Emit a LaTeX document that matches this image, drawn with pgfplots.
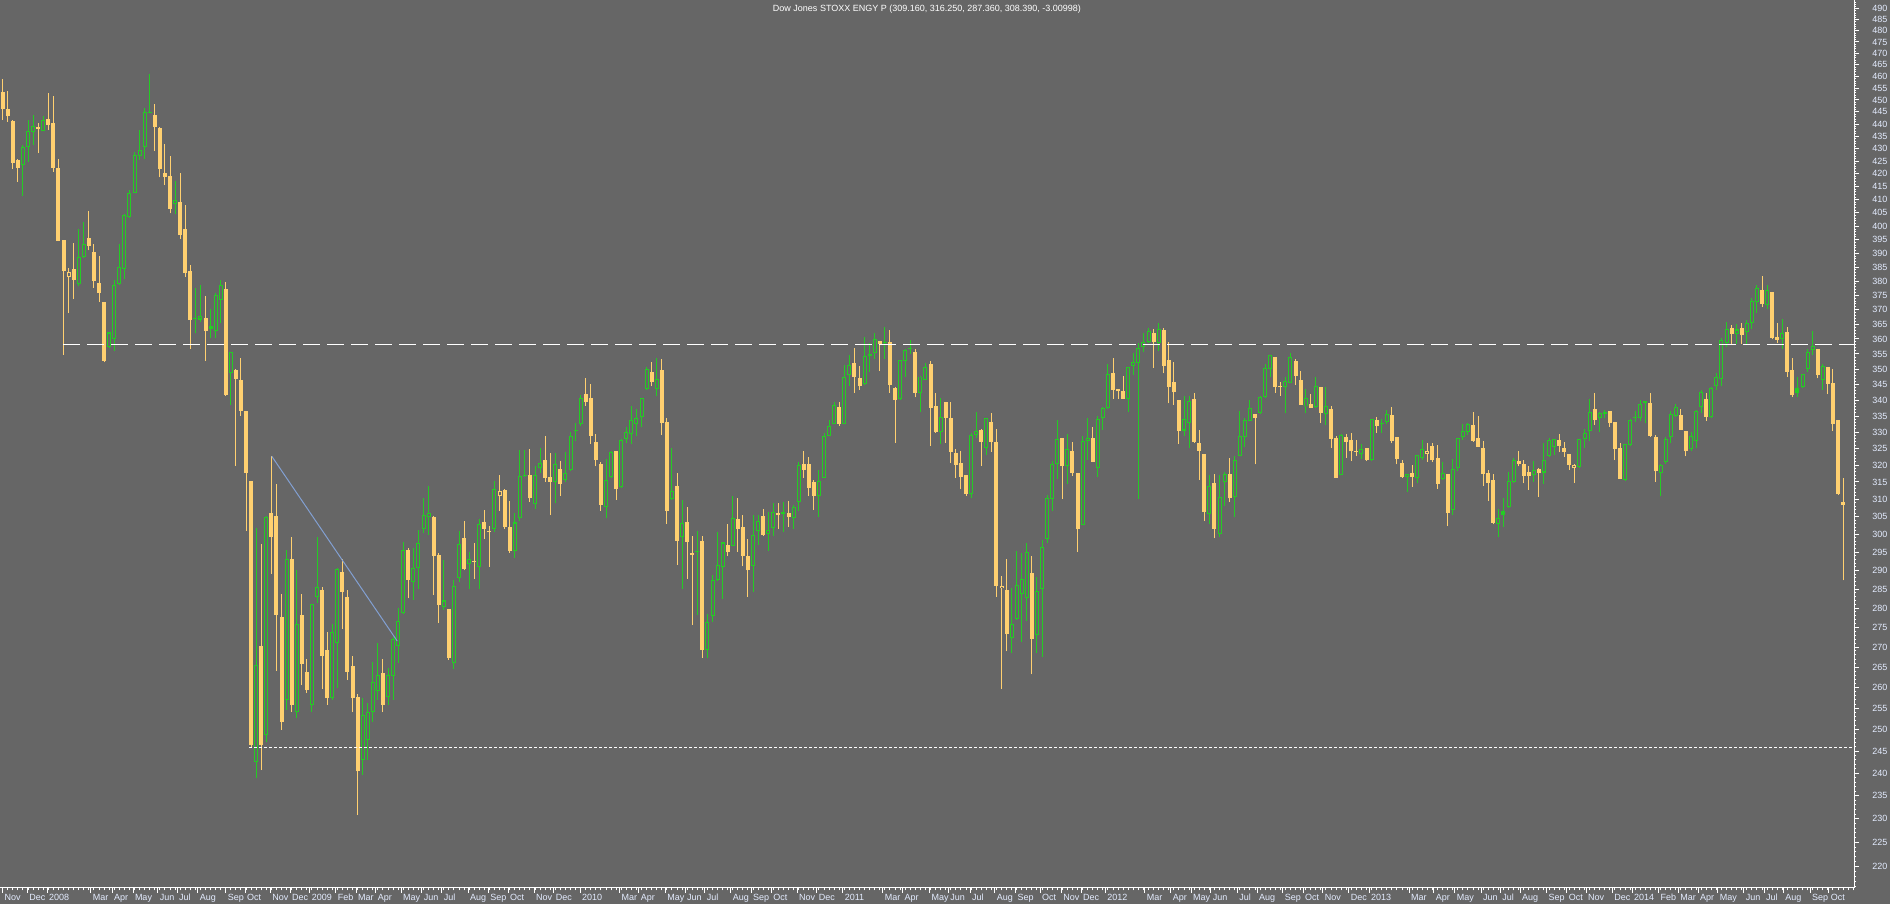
\documentclass[border=0pt]{standalone}
\usepackage{fontspec}
\setmainfont{Liberation Sans}
\usepackage{pgfplots}
\pgfplotsset{compat=1.18}
\usepackage{pgfplotstable}

\definecolor{bg}{RGB}{102,102,102}
\definecolor{up}{RGB}{36,204,36}
\definecolor{dn}{RGB}{255,208,112}
\definecolor{trend}{RGB}{130,160,210}
\definecolor{lbl}{RGB}{228,236,255}

% weekly candles: index, open, high, low, close, green?, filled?
\pgfplotstableread{
i o h l c g f
0 453.4 458.9 441.7 446.3 0 1
1 446.2 453.8 441.0 443.1 0 1
2 441.3 441.5 421.8 424.4 0 1
3 425.5 425.8 416.9 422.4 0 1
4 423.4 431.5 411.5 430.6 1 0
5 430.6 441.7 424.8 437.2 1 0
6 436.7 443.8 431.5 439.2 1 0
7 438.7 440.3 428.2 438.1 0 1
8 437.3 443.4 437.0 441.8 1 0
9 442.1 453.0 437.6 439.6 0 1
10 440.5 451.7 420.8 422.4 0 1
11 422.3 425.9 394.4 394.6 0 1
12 394.9 395.0 354.7 383.7 0 1
13 381.6 384.6 368.8 383.3 0 0
14 384.4 393.9 373.6 380.5 0 1
15 378.9 399.0 378.1 388.7 1 0
16 388.8 401.4 388.5 393.4 1 0
17 395.6 405.7 391.0 392.7 0 1
18 390.5 393.5 377.7 380.1 0 1
19 379.3 389.0 372.8 375.9 0 1
20 372.6 372.8 352.2 352.8 0 1
21 357.2 362.4 357.0 362.2 1 0
22 359.9 380.2 356.1 378.6 1 0
23 378.8 393.4 378.6 385.0 1 0
24 384.3 404.6 380.9 404.2 1 0
25 403.3 413.7 402.9 412.7 1 0
26 412.7 428.8 412.5 427.6 1 0
27 427.0 437.6 425.6 429.5 1 0
28 430.6 446.5 425.8 444.8 1 0
29 444.5 461.1 444.4 444.8 1 1
30 443.8 448.3 429.0 438.9 0 1
31 438.4 438.6 418.6 421.9 0 1
32 420.3 431.9 415.6 418.8 0 1
33 419.2 427.1 404.8 406.6 0 1
34 408.2 417.2 404.7 409.8 1 0
35 409.1 420.3 395.1 396.6 0 1
36 399.0 408.0 381.6 382.8 0 1
37 383.6 385.8 356.7 366.5 0 1
38 367.1 377.6 361.9 367.3 1 1
39 366.6 378.6 365.6 367.8 1 0
40 367.3 374.7 352.8 362.8 0 1
41 364.4 370.4 360.5 363.4 1 1
42 362.8 375.7 360.5 375.0 1 0
43 373.3 380.4 365.3 378.7 1 0
44 377.2 379.7 341.4 341.8 0 1
45 348.6 355.6 338.5 355.5 1 0
46 349.7 350.1 319.8 346.8 0 1
47 346.5 353.8 335.1 336.6 0 1
48 336.6 336.7 300.9 317.8 0 1
49 315.3 315.4 245.8 246.4 0 1
50 242.5 301.7 238.9 265.5 1 0
51 270.3 297.3 240.7 246.4 0 1
52 248.7 305.2 247.1 304.8 1 0
53 306.0 322.7 289.1 299.3 0 1
54 305.2 314.3 264.1 278.2 0 1
55 277.6 283.7 249.9 251.7 0 1
56 257.0 295.5 254.6 293.1 1 0
57 293.2 299.2 254.1 255.8 0 1
58 254.1 290.2 252.7 275.8 1 0
59 278.2 283.7 260.6 265.8 0 1
60 263.7 267.0 258.6 259.4 0 1
61 255.8 281.1 254.1 281.0 1 0
62 283.0 299.1 281.4 285.5 1 0
63 284.8 285.5 259.6 267.8 0 1
64 269.3 273.7 255.8 257.4 0 1
65 257.4 275.8 257.0 273.7 1 0
66 271.0 290.7 259.8 290.5 1 0
67 289.6 293.1 274.6 284.3 0 1
68 282.9 284.8 261.8 263.9 0 1
69 265.3 267.8 254.1 257.4 0 1
70 257.6 258.5 230.8 240.4 0 1
71 243.0 257.4 239.6 253.4 1 0
72 247.6 256.3 243.0 254.1 1 0
73 254.1 266.2 251.7 261.4 1 0
74 259.2 271.0 257.0 263.0 1 0
75 263.6 267.1 254.1 255.8 0 1
76 257.8 264.7 255.8 263.0 1 0
77 262.7 272.6 257.0 272.0 1 0
78 270.3 280.0 266.1 276.6 1 0
79 278.6 297.8 278.4 295.5 1 0
80 295.5 296.1 282.6 287.5 0 1
81 286.9 296.1 282.1 290.8 1 0
82 290.8 301.2 285.1 297.5 1 0
83 301.4 310.3 300.4 305.4 1 0
84 304.8 313.9 299.8 306.1 1 0
85 305.0 305.2 283.4 294.0 0 1
86 294.2 294.7 276.2 280.8 0 1
87 280.4 292.9 279.5 282.0 1 0
88 279.7 279.8 266.8 267.2 0 1
89 266.1 287.5 264.6 285.8 1 0
90 287.9 300.9 287.0 297.2 1 0
91 299.0 303.7 290.0 290.5 0 1
92 291.7 295.2 285.1 293.1 1 0
93 292.7 297.6 287.8 292.4 0 1
94 291.0 304.2 285.1 302.9 1 0
95 303.3 306.9 298.7 301.5 0 1
96 301.0 302.3 291.0 300.7 0 1
97 301.5 315.3 300.7 313.0 1 0
98 310.9 317.1 306.7 312.3 0 0
99 312.7 312.8 301.5 302.0 0 1
100 302.0 309.5 294.9 295.4 0 1
101 295.3 305.9 293.5 303.3 1 0
102 304.5 324.6 303.7 316.7 1 0
103 316.9 324.5 316.6 317.2 1 1
104 317.1 325.0 309.3 310.2 0 1
105 308.5 319.8 307.1 317.1 1 0
106 319.1 325.2 317.6 320.5 1 0
107 321.5 328.8 315.1 316.3 0 1
108 316.5 323.5 305.4 315.1 0 1
109 315.1 323.5 309.0 320.2 1 0
110 318.9 321.2 310.9 314.5 0 1
111 315.5 323.9 315.1 317.6 1 0
112 318.5 329.9 318.3 328.7 1 0
113 330.5 332.8 327.3 330.8 1 1
114 332.4 341.7 331.9 340.6 1 0
115 342.0 347.1 338.2 339.6 0 1
116 340.7 345.2 326.4 328.9 0 1
117 327.0 329.5 319.6 321.6 0 1
118 320.4 321.0 306.7 308.4 0 1
119 307.7 321.8 304.5 315.5 1 0
120 316.5 324.3 316.2 324.0 1 0
121 324.3 324.4 309.8 312.8 0 1
122 313.4 327.8 313.2 327.5 1 0
123 327.8 331.6 326.6 330.0 1 0
124 329.4 338.2 326.5 333.7 1 0
125 332.5 337.1 328.9 334.4 1 0
126 334.6 340.8 331.7 340.7 1 0
127 343.5 350.6 343.1 349.9 1 0
128 349.0 352.4 344.4 345.8 0 1
129 343.5 353.6 341.5 346.8 1 0
130 349.7 353.3 329.1 332.9 0 1
131 333.2 334.4 303.0 306.7 0 1
132 310.0 325.1 309.8 312.4 1 0
133 313.9 317.7 291.5 298.2 0 1
134 299.3 309.8 285.1 303.1 1 0
135 303.4 307.7 287.8 297.9 0 1
136 294.8 299.5 275.6 294.3 0 1
137 295.0 300.9 278.2 295.3 1 1
138 298.1 299.5 267.3 269.3 0 1
139 269.3 278.5 267.3 276.4 1 0
140 278.0 288.8 276.4 287.5 1 0
141 287.4 300.6 287.2 291.5 1 0
142 291.0 297.9 282.4 297.7 1 0
143 297.0 302.9 294.0 295.2 0 1
144 296.7 311.0 296.6 304.6 1 0
145 304.3 310.3 295.1 301.5 0 1
146 302.0 305.4 291.1 293.9 0 1
147 294.0 298.7 283.0 290.0 0 1
148 291.3 305.4 284.3 299.7 1 0
149 300.8 305.5 297.0 303.6 1 0
150 305.2 307.1 299.6 299.9 0 1
151 300.0 306.2 295.4 301.1 1 0
152 301.8 309.0 299.6 306.2 1 0
153 305.9 309.0 301.5 305.4 0 1
154 305.6 309.2 300.7 306.2 1 1
155 306.0 309.4 302.1 304.9 0 1
156 304.5 308.3 301.5 307.7 1 0
157 309.3 321.0 306.7 320.0 1 0
158 320.4 324.2 316.2 318.6 0 1
159 320.4 322.5 310.9 313.2 0 1
160 315.0 315.7 306.9 311.0 0 1
161 310.8 318.6 305.0 315.2 1 0
162 316.3 329.6 316.2 328.8 1 0
163 328.9 333.8 328.8 331.9 1 0
164 332.6 339.3 332.5 338.4 1 0
165 337.8 339.4 331.9 332.6 0 1
166 332.6 351.4 332.5 347.5 1 0
167 348.2 354.7 344.4 351.3 1 0
168 352.0 356.9 342.4 347.5 0 1
169 347.2 351.0 343.3 344.5 0 1
170 345.1 360.6 345.0 354.2 1 0
171 354.4 358.6 349.1 354.9 1 1
172 355.4 362.0 353.4 359.9 1 0
173 359.3 359.4 349.4 358.2 0 1
174 358.5 364.0 353.4 359.0 1 1
175 359.0 363.0 342.4 344.8 0 1
176 344.0 344.1 326.7 340.1 0 1
177 340.3 353.1 340.2 353.0 1 0
178 352.8 356.6 347.5 356.2 1 0
179 356.6 359.7 355.1 356.8 1 1
180 355.7 356.6 340.9 342.3 0 1
181 342.4 347.7 336.4 347.6 1 0
182 346.6 351.9 346.5 350.6 1 0
183 351.8 352.8 325.9 337.6 0 1
184 338.3 342.2 329.8 329.9 0 1
185 329.9 340.7 326.3 334.8 1 0
186 339.3 339.4 326.8 334.5 0 1
187 334.4 339.3 320.7 324.0 0 1
188 323.5 325.0 316.3 320.1 0 1
189 320.7 324.4 312.8 316.6 0 1
190 317.1 317.2 311.0 311.5 0 1
191 311.6 329.7 310.3 329.1 1 0
192 329.2 336.2 328.3 330.3 1 0
193 330.7 331.0 319.8 327.1 0 1
194 325.3 334.4 323.1 334.3 1 0
195 333.1 335.9 324.0 327.1 0 1
196 326.9 331.0 283.0 285.9 0 1
197 285.2 288.6 259.6 285.8 0 0
198 284.8 293.2 268.9 273.4 0 1
199 272.2 285.3 268.4 276.0 1 0
200 277.2 295.3 276.9 286.1 1 0
201 283.7 294.9 271.4 287.7 1 0
202 282.6 297.5 276.7 295.2 1 0
203 289.4 294.0 263.2 272.1 0 1
204 273.0 288.3 268.6 284.6 1 0
205 285.0 298.4 267.5 296.4 1 0
206 298.6 311.2 297.6 310.3 1 0
207 310.1 321.2 306.7 320.2 1 0
208 320.2 333.8 316.0 327.8 1 0
209 328.2 328.3 310.0 319.7 0 1
210 319.7 329.5 314.5 324.8 1 0
211 324.3 327.0 316.8 317.8 0 1
212 317.7 317.8 295.0 301.4 0 1
213 302.6 328.9 302.5 327.2 1 0
214 327.2 334.4 321.5 328.1 1 0
215 328.2 331.6 320.9 321.0 0 1
216 319.1 335.0 316.6 334.0 1 0
217 334.3 337.9 330.7 337.4 1 0
218 337.4 351.7 337.3 348.5 1 0
219 348.7 353.7 340.5 343.3 0 1
220 343.5 343.6 340.5 342.8 0 1
221 343.0 347.8 340.4 340.5 0 1
222 340.3 350.7 336.4 350.6 1 0
223 351.0 355.4 348.1 352.4 1 0
224 351.9 358.8 310.0 357.1 1 0
225 357.2 362.0 355.5 358.9 1 0
226 358.9 363.6 358.6 362.6 1 0
227 362.0 363.4 350.5 359.0 0 1
228 358.8 365.5 356.1 363.3 1 0
229 363.0 363.6 348.6 351.1 0 1
230 353.0 359.0 339.0 344.3 0 1
231 345.8 352.4 338.6 342.5 0 1
232 340.1 340.2 326.4 330.5 0 1
233 330.5 341.4 328.9 334.0 1 0
234 332.7 341.2 325.3 339.7 1 0
235 340.4 342.2 326.8 327.0 0 1
236 326.7 330.6 315.6 324.4 0 1
237 323.3 323.4 303.8 306.4 0 1
238 305.6 317.1 303.0 313.8 1 0
239 314.7 317.3 298.8 301.5 0 1
240 300.2 317.1 299.2 310.6 1 0
241 315.1 318.0 308.1 317.3 1 0
242 317.4 322.0 309.3 310.2 0 1
243 310.5 322.7 305.0 321.5 1 0
244 322.7 336.6 322.6 328.7 1 0
245 328.6 334.5 325.6 333.7 1 0
246 333.4 340.1 333.3 337.4 1 0
247 335.7 335.8 320.2 334.5 0 1
248 335.9 341.2 335.8 341.1 1 0
249 340.9 351.7 340.8 350.3 1 0
250 350.0 354.7 347.4 354.6 1 0
251 354.0 354.1 342.4 344.2 0 1
252 344.4 345.8 341.5 344.1 0 1
253 344.2 347.6 336.0 346.1 1 0
254 345.6 355.2 345.5 353.9 1 0
255 352.7 353.5 345.0 347.8 0 1
256 346.5 349.4 338.5 338.6 0 1
257 338.0 343.6 336.0 340.7 1 0
258 338.8 342.1 337.5 337.6 0 1
259 337.8 347.6 337.4 344.4 1 0
260 344.2 344.3 333.0 336.0 0 1
261 335.8 344.3 332.3 338.3 1 0
262 337.2 338.0 325.3 328.0 0 1
263 328.2 328.9 316.2 316.3 0 1
264 317.0 329.5 316.9 329.1 1 0
265 328.5 329.3 322.2 327.1 0 1
266 327.6 329.7 321.2 324.1 0 1
267 324.3 327.5 322.7 324.0 0 1
268 323.3 326.3 321.7 325.0 1 0
269 325.1 325.2 321.3 321.5 0 1
270 321.4 334.1 321.3 334.0 1 0
271 333.8 334.8 329.7 332.0 0 1
272 332.6 334.2 329.7 332.8 1 1
273 333.2 336.9 332.4 335.8 1 0
274 335.4 337.9 326.6 327.3 0 1
275 328.5 328.6 320.2 321.8 0 1
276 320.5 321.5 316.2 316.4 0 1
277 316.4 317.5 312.2 317.4 1 0
278 317.7 320.1 313.6 316.6 0 1
279 316.1 323.1 314.6 323.0 1 0
280 322.2 327.6 321.5 324.8 1 0
281 323.3 326.8 321.0 324.3 0 0
282 325.8 326.6 321.0 321.4 0 1
283 322.2 326.0 313.0 314.4 0 1
284 315.8 320.9 315.7 317.6 1 0
285 317.4 317.5 302.3 306.1 0 1
286 306.9 321.7 305.4 318.9 1 0
287 319.0 328.3 318.1 328.2 1 0
288 328.4 332.6 327.6 330.3 1 0
289 330.2 332.7 329.1 332.5 1 0
290 332.2 336.3 327.1 327.4 0 1
291 328.2 335.0 325.4 325.5 0 1
292 325.2 327.3 313.8 317.5 0 1
293 317.8 318.6 309.5 314.8 0 1
294 315.6 317.4 302.8 303.2 0 1
295 303.0 307.1 299.3 304.7 1 0
296 306.5 310.3 302.1 305.5 1 1
297 307.7 318.0 307.4 315.3 1 0
298 315.1 322.0 314.8 321.5 1 0
299 321.2 324.3 319.6 320.3 0 1
300 320.3 321.5 314.6 316.8 0 1
301 318.0 319.8 312.7 316.7 0 1
302 317.0 321.3 315.1 318.6 1 0
303 318.9 319.0 310.7 317.8 0 1
304 317.8 326.7 314.4 321.4 1 0
305 322.8 328.3 322.5 327.7 1 0
306 325.5 328.0 323.1 327.8 1 0
307 327.6 329.5 323.9 325.8 0 1
308 325.3 327.0 322.5 324.0 0 1
309 323.3 323.4 318.6 320.0 0 1
310 319.0 320.3 314.8 319.9 0 0
311 319.3 328.0 319.2 327.9 1 0
312 327.8 330.9 325.1 329.7 1 0
313 330.3 340.3 327.4 336.2 1 0
314 337.1 342.4 332.3 333.9 0 1
315 334.4 336.4 329.9 335.9 1 0
316 335.8 336.9 334.3 336.3 1 1
317 336.6 336.7 331.7 333.0 0 1
318 333.1 333.2 321.5 325.0 0 1
319 325.1 326.6 315.9 316.0 0 1
320 315.6 326.4 315.4 326.3 1 0
321 326.1 334.2 325.8 333.8 1 0
322 334.3 336.6 333.1 334.8 1 1
323 334.4 340.1 333.6 338.7 1 0
324 339.0 339.8 332.9 339.7 1 1
325 339.1 342.4 328.6 328.8 0 1
326 328.4 329.1 315.1 318.1 0 1
327 317.6 320.2 311.0 320.1 1 0
328 321.0 328.4 320.2 327.8 1 0
329 328.6 336.5 326.8 335.7 1 0
330 335.1 338.8 334.6 337.8 1 0
331 335.4 337.1 330.6 330.7 0 1
332 330.4 330.5 322.6 324.1 0 1
333 324.8 330.2 324.4 328.8 1 0
334 327.2 336.9 325.2 336.7 1 0
335 337.8 343.3 336.1 342.6 1 0
336 340.4 342.2 333.6 334.8 0 1
337 334.6 344.3 334.3 344.0 1 0
338 344.6 348.6 343.3 347.4 1 0
339 346.8 360.5 344.4 359.7 1 0
340 358.8 365.8 357.2 363.3 1 0
341 363.7 364.8 358.3 361.8 0 1
342 361.6 365.1 358.3 363.2 1 0
343 363.6 365.3 358.3 361.3 0 1
344 362.2 366.4 358.3 365.3 1 0
345 365.3 373.9 363.2 373.1 1 0
346 372.5 378.6 368.8 377.7 1 0
347 376.9 381.8 370.8 371.8 0 1
348 371.5 378.6 370.4 376.9 1 0
349 376.2 376.3 359.9 360.4 0 1
350 360.8 365.3 358.6 359.7 0 1
351 359.9 366.7 356.6 361.9 1 0
352 362.4 364.1 347.5 349.1 0 1
353 349.7 353.7 340.9 341.8 0 1
354 343.9 347.6 341.0 342.2 1 1
355 344.3 348.4 344.0 348.3 1 0
356 350.1 356.6 349.0 355.5 1 0
357 356.3 362.7 354.7 357.7 1 0
358 356.6 356.7 347.0 348.0 0 1
359 346.6 351.7 343.3 351.1 1 0
360 350.7 350.8 341.9 345.2 0 1
361 345.5 350.0 330.5 332.6 0 1
362 333.8 333.9 311.3 311.4 0 1
363 309.16 316.25 287.36 308.39 0 1
}\candles

% turn the table into broken line lists (one vertical piece per candle)
\gdef\wickG{}\gdef\wickY{}\gdef\bodyG{}\gdef\bodyY{}\gdef\hollow{}
\pgfplotstablegetrowsof{\candles}
\pgfmathtruncatemacro\lastrow{\pgfplotsretval-1}
\foreach \k in {0,...,\lastrow}{%
  \pgfplotstablegetelem{\k}{i}\of\candles\edef\vi{\pgfplotsretval}%
  \pgfplotstablegetelem{\k}{o}\of\candles\edef\vo{\pgfplotsretval}%
  \pgfplotstablegetelem{\k}{h}\of\candles\edef\vh{\pgfplotsretval}%
  \pgfplotstablegetelem{\k}{l}\of\candles\edef\vl{\pgfplotsretval}%
  \pgfplotstablegetelem{\k}{c}\of\candles\edef\vc{\pgfplotsretval}%
  \pgfplotstablegetelem{\k}{g}\of\candles\edef\vg{\pgfplotsretval}%
  \pgfplotstablegetelem{\k}{f}\of\candles\edef\vf{\pgfplotsretval}%
  \pgfmathsetmacro\blo{min(\vo,\vc)}%
  \pgfmathsetmacro\bhi{max(\vo,\vc)}%
  \ifnum\vg=1
    \xdef\wickG{\wickG (\vi,\vl) (\vi,\vh) (\vi,nan)}%
    \xdef\bodyG{\bodyG (\vi,\blo) (\vi,\bhi) (\vi,nan)}%
  \else
    \xdef\wickY{\wickY (\vi,\vl) (\vi,\vh) (\vi,nan)}%
    \xdef\bodyY{\bodyY (\vi,\blo) (\vi,\bhi) (\vi,nan)}%
  \fi
  \ifnum\vf=0
    % inner part of a hollow body, one pixel inside the outline
    \pgfmathsetmacro\ilo{\blo*1.00094}%
    \pgfmathsetmacro\ihi{\bhi/1.00094}%
    \xdef\hollow{\hollow (\vi,\ilo) (\vi,\ihi) (\vi,nan)}%
  \fi
}

\begin{document}
\begin{tikzpicture}
\fill[bg] (0,-8pt) rectangle (945pt,444pt);
\begin{axis}[
    at={(0,0)}, anchor=south west,
    scale only axis, width=927pt, height=444pt,
    xmin=-0.533, xmax=365.15,
    ymode=log, ymin=215.62, ymax=494.05,
    axis x line=bottom, axis y line=right,
    axis line style={draw=white, line width=0.5pt, -},
    tick align=outside,
    major tick length=2.5pt, minor tick length=1.2pt,
    every tick/.style={white, line width=0.5pt},
    unbounded coords=jump,
    ytick={220,225,...,490},
    minor ytick={216,217,...,494},
    yticklabel={\pgfmathparse{exp(\tick)}\pgfmathprintnumber[fixed,precision=0]{\pgfmathresult}},
    xtick={0,4.87,8.74,17.4,21.6,25.7,30.6,34.4,38.5,44.0,47.8,52.8,56.7,60.6,65.7,69.7,73.6,78.6,82.7,86.6,91.8,95.8,99.7,104.8,108.7,113.9,121.7,125.5,130.7,134.6,138.5,143.6,147.6,151.6,156.7,160.6,165.7,173.6,177.5,182.8,186.5,190.8,195.7,199.8,204.6,208.8,212.7,217.5,225.3,230.4,234.4,238.3,243.5,247.4,252.5,256.5,260.4,265.5,269.5,277.4,282.3,286.4,291.6,295.4,299.3,304.5,308.5,312.3,317.5,321.4,326.6,330.5,334.4,338.3,343.4,347.4,351.2,356.5,360.2},
    xticklabels={Nov,Dec,2008,Mar,Apr,May,Jun,Jul,Aug,Sep,Oct,Nov,Dec,2009,Feb,Mar,Apr,May,Jun,Jul,Aug,Sep,Oct,Nov,Dec,2010,Mar,Apr,May,Jun,Jul,Aug,Sep,Oct,Nov,Dec,2011,Mar,Apr,May,Jun,Jul,Aug,Sep,Oct,Nov,Dec,2012,Mar,Apr,May,Jun,Jul,Aug,Sep,Oct,Nov,Dec,2013,Mar,Apr,May,Jun,Jul,Aug,Sep,Oct,Nov,Dec,2014,Feb,Mar,Apr,May,Jun,Jul,Aug,Sep,Oct},
    minor xtick={0,1,...,365},
    tick label style={font=\fontsize{4.5}{5}\selectfont, text=lbl,
      /pgf/number format/assume math mode=true},
    xticklabel style={anchor=north west, inner sep=0.5pt, xshift=0.3pt},
    yticklabel style={anchor=west, inner sep=0.5pt, xshift=6pt},
    title={Dow Jones STOXX ENGY P (309.160, 316.250, 287.360, 308.390, -3.00998)},
    title style={at={(axis description cs:0.5,1)}, anchor=north, yshift=-7.5pt,
      inner sep=1pt, font=\fontsize{4.5}{5}\selectfont, text=white},
]
% wicks, bodies, then the inside of hollow bodies
\edef\cmd{\noexpand\addplot[forget plot, dn, line width=0.5pt] coordinates {\wickY};}\cmd
\edef\cmd{\noexpand\addplot[forget plot, up, line width=0.5pt] coordinates {\wickG};}\cmd
\edef\cmd{\noexpand\addplot[forget plot, dn, line width=2pt] coordinates {\bodyY};}\cmd
\edef\cmd{\noexpand\addplot[forget plot, up, line width=2pt] coordinates {\bodyG};}\cmd
\edef\cmd{\noexpand\addplot[forget plot, bg, line width=1pt] coordinates {\hollow};}\cmd

% resistance, support and trend lines
\addplot[forget plot, white, line width=0.5pt, dash pattern=on 8.5pt off 3.5pt]
  coordinates {(11.9,358.2) (366,358.2)};
\addplot[forget plot, white, line width=0.5pt, dash pattern=on 1.5pt off 1pt]
  coordinates {(48.6,245.8) (366,245.8)};
\addplot[forget plot, trend, line width=0.5pt]
  coordinates {(53.06,322.7) (77.83,271.5)};
\end{axis}
\pgfresetboundingbox
\path[use as bounding box] (0,-8pt) rectangle (945pt,444pt);
\end{tikzpicture}
\end{document}
